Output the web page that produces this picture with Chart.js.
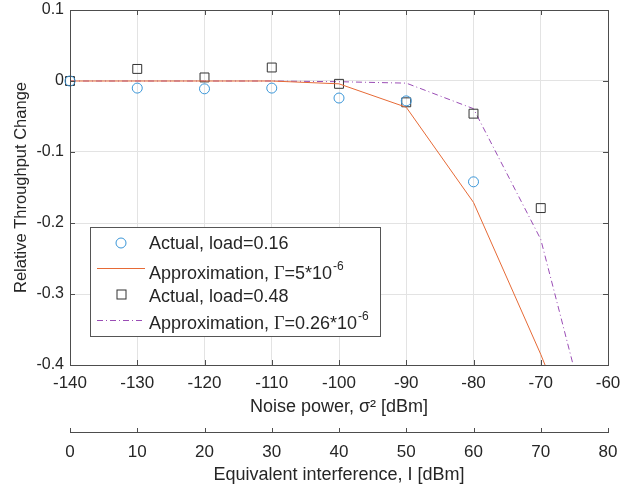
<!DOCTYPE html>
<html>
<head>
<meta charset="utf-8">
<script src="https://cdn.jsdelivr.net/npm/chart.js@4"></script>
<style>
  html, body { margin: 0; padding: 0; background: #fff; }
  #wrap { width: 638px; height: 491px; }
</style>
</head>
<body>
<div id="wrap"><canvas id="chart" width="638" height="491"></canvas></div>
<script>
// --- Data ---
const noisePower = [-140, -130, -120, -110, -100, -90, -80, -70, -60];
const actualLoad016 = [0, -0.010, -0.011, -0.010, -0.024, -0.028, -0.142];
const actualLoad048 = [0, 0.017, 0.005, 0.019, -0.004, -0.030, -0.046, -0.179];
const approxGamma5 = [0, 0, 0, 0, -0.004, -0.037, -0.171, -0.385, -0.62];
const approxGamma026 = [0, 0, 0, 0, -0.001, -0.003, -0.039, -0.223, -0.59];
const interferenceRange = [0, 80];
const seriesLabels = [
    'Actual, load=0.16',
    'Approximation, Γ=5*10^-6',
    'Actual, load=0.48',
    'Approximation, Γ=0.26*10^-6'
];

const textColor = '#262626';
const axisColor = '#4d4d4d';
const gridColor = '#e3e3e3';
const sans = '"Liberation Sans", Arial, Helvetica, sans-serif';

const pts = ys => ys.map((y, i) => ({ x: noisePower[i], y: y }));

function drawRich(ctx, text, x, y) {
    const [main, sup] = text.split('^');
    let cx = x;
    main.split(/(Γ)/).forEach(part => {
        if (!part) return;
        ctx.font = part === 'Γ' ? '18px "Liberation Serif", "Times New Roman", serif' : `18px ${sans}`;
        ctx.fillText(part, cx, y);
        cx += ctx.measureText(part).width;
    });
    if (sup) {
        ctx.font = `12px ${sans}`;
        ctx.fillText(sup, cx + 1, y - 9);
    }
}

const framePlugin = {
    id: 'frame',
    afterDraw(chart) {
        const { ctx, chartArea: a, scales } = chart;
        const line = (x1, y1, x2, y2) => { ctx.beginPath(); ctx.moveTo(x1, y1); ctx.lineTo(x2, y2); ctx.stroke(); };
        ctx.save();
        ctx.strokeStyle = axisColor;
        ctx.lineWidth = 1;
        ctx.strokeRect(a.left + 0.5, a.top + 0.5, a.right - a.left, a.bottom - a.top);

        const tl = 5;
        scales.x.ticks.forEach(t => {
            const px = Math.round(scales.x.getPixelForValue(t.value)) + 0.5;
            line(px, a.bottom, px, a.bottom - tl);
            line(px, a.top, px, a.top + tl);
        });
        scales.y.ticks.forEach(t => {
            const py = Math.round(scales.y.getPixelForValue(t.value)) + 0.5;
            line(a.left, py, a.left + tl, py);
            line(a.right, py, a.right - tl, py);
        });
        const x2 = scales.x2;
        x2.ticks.forEach(t => {
            const px = Math.round(x2.getPixelForValue(t.value)) + 0.5;
            line(px, x2.top + 0.5, px, x2.top - 4);
        });

        // legend
        const box = { left: 90, top: 227, right: 380, bottom: 336 };
        ctx.fillStyle = '#fff';
        ctx.fillRect(box.left, box.top, box.right - box.left, box.bottom - box.top);
        ctx.strokeStyle = '#555';
        ctx.strokeRect(box.left + 0.5, box.top + 0.5, box.right - box.left, box.bottom - box.top);

        const symY = [243, 268, 294, 320];
        const textY = [249, 279, 302, 329];
        chart.data.datasets.forEach((ds, i) => {
            ctx.save();
            ctx.lineWidth = 1;
            if (ds.showLine) {
                ctx.strokeStyle = ds.borderColor;
                ctx.setLineDash(ds.borderDash || []);
                line(97, symY[i] + 0.5, 145, symY[i] + 0.5);
            } else {
                ctx.strokeStyle = ds.pointBorderColor;
                if (ds.pointStyle === 'rect') {
                    ctx.strokeRect(117, symY[i] - 4, 9, 9);
                } else {
                    ctx.beginPath();
                    ctx.arc(121, symY[i], 5, 0, Math.PI * 2);
                    ctx.stroke();
                }
            }
            ctx.restore();
            ctx.fillStyle = textColor;
            ctx.textBaseline = 'alphabetic';
            ctx.textAlign = 'left';
            drawRich(ctx, ds.label, 149, textY[i]);
        });
        ctx.restore();
    }
};

const chart = new Chart(document.getElementById('chart'), {
    type: 'scatter',
    data: {
        datasets: [
            {
                label: seriesLabels[0],
                data: pts(actualLoad016),
                showLine: false,
                pointStyle: 'circle',
                pointRadius: 5,
                pointBorderWidth: 1,
                pointBorderColor: '#3a96d8',
                pointBackgroundColor: 'rgba(0,0,0,0)',
                clip: 8,
            },
            {
                label: seriesLabels[1],
                data: pts(approxGamma5),
                showLine: true,
                borderColor: '#e66a36',
                borderWidth: 1,
                pointRadius: 0,
                clip: 0,
            },
            {
                label: seriesLabels[2],
                data: pts(actualLoad048),
                showLine: false,
                pointStyle: 'rect',
                pointRadius: 6.3,
                pointBorderWidth: 1,
                pointBorderColor: '#333333',
                pointBackgroundColor: 'rgba(0,0,0,0)',
                clip: 8,
            },
            {
                label: seriesLabels[3],
                data: pts(approxGamma026),
                showLine: true,
                borderColor: '#9a4db5',
                borderWidth: 1,
                borderDash: [6, 3, 1, 3],
                pointRadius: 0,
                clip: 0,
            },
        ]
    },
    options: {
        responsive: false,
        animation: false,
        layout: { padding: { top: 10, right: 30, bottom: 0, left: 0 } },
        plugins: { legend: { display: false }, tooltip: { enabled: false } },
        scales: {
            x: {
                type: 'linear',
                position: 'bottom',
                min: noisePower[0],
                max: noisePower[noisePower.length - 1],
                ticks: { stepSize: 10, padding: 8, color: textColor, font: { family: sans, size: 17 } },
                grid: { color: gridColor, drawTicks: false },
                border: { display: true, color: axisColor },
                title: { display: true, text: 'Noise power, σ² [dBm]', color: textColor, font: { family: sans, size: 18 }, padding: { top: 0, bottom: 14 } },
                afterFit: s => { s.height = 67; },
            },
            x2: {
                type: 'linear',
                position: 'bottom',
                min: interferenceRange[0],
                max: interferenceRange[1],
                ticks: { stepSize: 10, padding: 10, color: textColor, font: { family: sans, size: 17 } },
                grid: { drawOnChartArea: false, drawTicks: false },
                border: { display: true, color: axisColor },
                title: { display: true, text: 'Equivalent interference, I [dBm]', color: textColor, font: { family: sans, size: 18 }, padding: { top: 0, bottom: 5 } },
                afterFit: s => { s.height = 59; },
            },
            y: {
                min: -0.4,
                max: 0.1,
                ticks: { stepSize: 0.1, padding: 0, color: textColor, font: { family: sans, size: 16 }, callback: v => String(+v.toFixed(1)) },
                grid: { color: gridColor, drawTicks: true, tickLength: 6, tickColor: 'rgba(0,0,0,0)' },
                border: { display: true, color: axisColor },
                title: { display: true, text: 'Relative Throughput Change', color: textColor, font: { family: sans, size: 16.5 }, padding: { top: 12, bottom: 0 } },
                afterFit: s => { s.width = 70; },
            }
        }
    },
    plugins: [framePlugin]
});
</script>
</body>
</html>
